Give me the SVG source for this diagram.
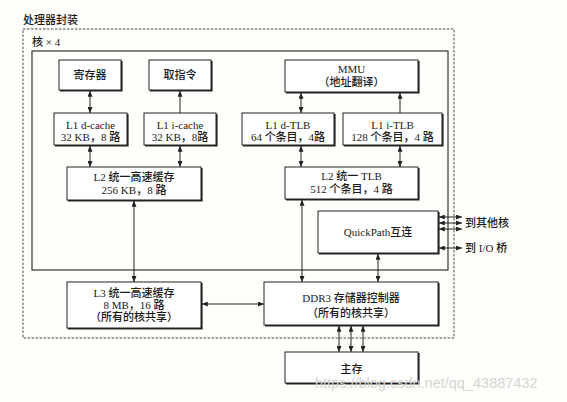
<svg xmlns="http://www.w3.org/2000/svg" width="567" height="402" viewBox="0 0 567 402">
<style>
text{font-family:"Liberation Serif","Noto Sans CJK SC",serif;font-size:11px;font-weight:500;fill:#1a1a1a;text-anchor:middle}
.lbl{text-anchor:start}
.box{fill:#fff;stroke:#222;stroke-width:1}
.sh{fill:none;stroke:#222;stroke-width:1.6}
.c{stroke:#222;stroke-width:1;fill:none;marker-end:url(#ah);marker-start:url(#ah)}
.u{stroke:#222;stroke-width:1;fill:none;marker-end:url(#ah)}
.wm{font-family:"Liberation Sans",sans-serif;font-size:14.5px;font-weight:normal;fill:#d4d4d4;text-anchor:start}
</style>
<defs>
<marker id="ah" markerUnits="userSpaceOnUse" markerWidth="6" markerHeight="5" refX="6" refY="2.5" orient="auto-start-reverse">
<path d="M0,0 L6,2.5 L0,5 z" fill="#222"/>
</marker>
</defs>
<rect width="567" height="402" fill="#fefefb"/>
<g id="package">
<text class="lbl" x="23" y="24">处理器封装</text>
<rect x="23" y="29" width="431" height="309" fill="none" stroke="#333" stroke-width="0.9" stroke-dasharray="2.5,1.5"/>
</g>
<g id="core">
<text class="lbl" x="32" y="46">核 × 4</text>
<rect x="32" y="51" width="416" height="219" fill="none" stroke="#222" stroke-width="1.1"/>
</g>
<g id="regs">
<rect class="box" x="59" y="60" width="62" height="30"/><polyline class="sh" points="121.8,61 121.8,90.8 60,90.8"/>
<text x="90" y="79">寄存器</text>
</g>
<g id="fetch">
<rect class="box" x="149" y="60" width="62" height="30"/><polyline class="sh" points="211.8,61 211.8,90.8 150,90.8"/>
<text x="180" y="79">取指令</text>
</g>
<g id="mmu">
<rect class="box" x="285" y="60" width="133" height="32"/><polyline class="sh" points="418.8,61 418.8,92.8 286,92.8"/>
<text x="351.5" y="73">MMU</text>
<text x="351.5" y="86">（地址翻译）</text>
</g>
<g id="l1d">
<rect class="box" x="54" y="113" width="73" height="32"/><polyline class="sh" points="127.8,114 127.8,145.8 55,145.8"/>
<text x="90.5" y="129">L1 d-cache</text>
<text x="90.5" y="141">32 KB，8 路</text>
</g>
<g id="l1i">
<rect class="box" x="144" y="113" width="72" height="32"/><polyline class="sh" points="216.8,114 216.8,145.8 145,145.8"/>
<text x="180" y="129">L1 i-cache</text>
<text x="180" y="141">32 KB，8路</text>
</g>
<g id="l1dtlb">
<rect class="box" x="242" y="113" width="92" height="32"/><polyline class="sh" points="334.8,114 334.8,145.8 243,145.8"/>
<text x="288" y="129">L1 d-TLB</text>
<text x="288" y="141">64 个条目，4路</text>
</g>
<g id="l1itlb">
<rect class="box" x="343" y="113" width="99" height="32"/><polyline class="sh" points="442.8,114 442.8,145.8 344,145.8"/>
<text x="392.5" y="129">L1 i-TLB</text>
<text x="392.5" y="141">128 个条目，4 路</text>
</g>
<g id="l2">
<rect class="box" x="67" y="167" width="134" height="33"/><polyline class="sh" points="201.8,168 201.8,200.8 68,200.8"/>
<text x="134" y="181">L2 统一高速缓存</text>
<text x="134" y="194">256 KB，8 路</text>
</g>
<g id="l2tlb">
<rect class="box" x="285" y="167" width="133" height="32"/><polyline class="sh" points="418.8,168 418.8,199.8 286,199.8"/>
<text x="351.5" y="180">L2 统一 TLB</text>
<text x="351.5" y="193">512 个条目，4 路</text>
</g>
<g id="qpi">
<rect class="box" x="318" y="211" width="120" height="42"/><polyline class="sh" points="438.8,212 438.8,253.8 319,253.8"/>
<text x="378" y="236">QuickPath互连</text>
</g>
<g id="l3">
<rect class="box" x="67" y="282" width="134" height="46"/><polyline class="sh" points="201.8,283 201.8,328.8 68,328.8"/>
<text x="134" y="297">L3 统一高速缓存</text>
<text x="134" y="309">8 MB，16 路</text>
<text x="134" y="321">（所有的核共享）</text>
</g>
<g id="ddr3">
<rect class="box" x="264" y="282" width="174" height="43"/><polyline class="sh" points="438.8,283 438.8,325.8 265,325.8"/>
<text x="351" y="302">DDR3 存储器控制器</text>
<text x="351" y="317">（所有的核共享）</text>
</g>
<g id="mem">
<rect class="box" x="285" y="352" width="133" height="31"/><polyline class="sh" points="418.8,353 418.8,383.8 286,383.8"/>
<text x="351.5" y="373">主存</text>
</g>
<g id="ext">
<text class="lbl" x="465" y="227">到其他核</text>
<text class="lbl" x="465" y="252">到 I/O 桥</text>
</g>
<g id="connectors">
<line class="c" x1="90" y1="90.8" x2="90" y2="113"/>
<line class="u" x1="180" y1="113" x2="180" y2="90.8"/>
<line class="c" x1="301" y1="92.8" x2="301" y2="113"/>
<line class="u" x1="400" y1="113" x2="400" y2="92.8"/>
<line class="c" x1="90" y1="145.8" x2="90" y2="167"/>
<line class="c" x1="180" y1="145.8" x2="180" y2="167"/>
<line class="c" x1="301" y1="145.8" x2="301" y2="167"/>
<line class="c" x1="400" y1="145.8" x2="400" y2="167"/>
<line class="c" x1="134" y1="200.8" x2="134" y2="282"/>
<line class="c" x1="302" y1="199.8" x2="302" y2="282"/>
<line class="c" x1="378" y1="253.8" x2="378" y2="282"/>
<line class="c" x1="201.8" y1="304" x2="264" y2="304"/>
<line class="c" x1="438.8" y1="217" x2="462" y2="217"/>
<line class="c" x1="438.8" y1="223" x2="462" y2="223"/>
<line class="c" x1="438.8" y1="229" x2="462" y2="229"/>
<line class="c" x1="438.8" y1="248" x2="462" y2="248"/>
<line class="c" x1="339" y1="325.8" x2="339" y2="352"/>
<line class="c" x1="351" y1="325.8" x2="351" y2="352"/>
<line class="c" x1="363" y1="325.8" x2="363" y2="352"/>
</g>
<text class="wm" x="315" y="388">https://blog.csdn.net/qq_43887432</text>
</svg>
